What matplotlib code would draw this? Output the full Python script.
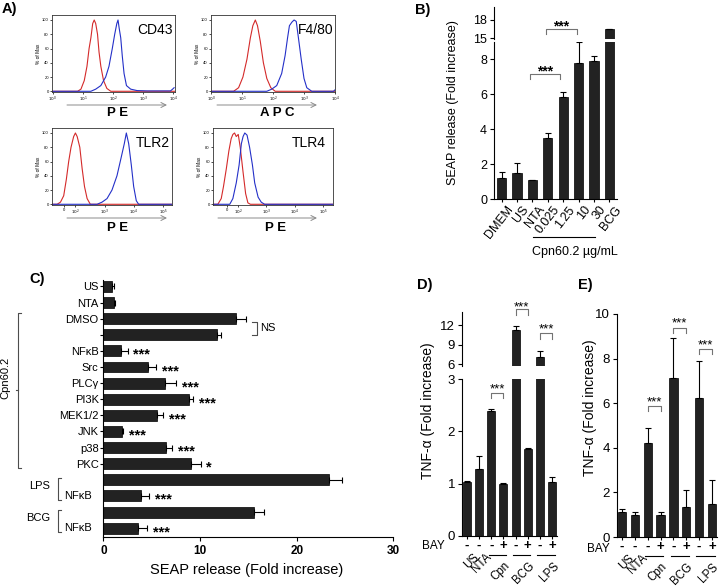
import numpy as np
import matplotlib
matplotlib.use('Agg')
import matplotlib.pyplot as plt
import matplotlib.transforms as mtrans

plt.rcParams['font.family'] = ['Liberation Sans', 'DejaVu Sans']
plt.rcParams['axes.linewidth'] = 0.8
plt.rcParams['xtick.major.width'] = 0.8
plt.rcParams['ytick.major.width'] = 0.8

# ---------------- data ----------------
# A) flow cytometry histograms (x: log10 fluorescence / decades, y: % of max)
cd43_red_x = [0, 0.82, 0.93, 1.04, 1.13, 1.20, 1.26, 1.32, 1.37, 1.42, 1.48, 1.53, 1.59, 1.68, 1.79, 1.92, 4.05]
cd43_red_y = [0, 0, 3, 15, 35, 60, 75, 95, 100, 95, 80, 55, 35, 15, 4, 0, 0]
cd43_blue_x = [0, 1.26, 1.42, 1.59, 1.75, 1.86, 1.97, 2.05, 2.12, 2.16, 2.20, 2.25, 2.30, 2.36, 2.44, 2.58, 2.79, 3.12, 3.90, 3.97, 4.02]
cd43_blue_y = [0, 0, 3, 8, 20, 35, 60, 80, 95, 100, 88, 75, 50, 25, 8, 3, 1, 0.5, 0.5, 3, 5]

f480_red_x = [0, 0.73, 0.89, 1.03, 1.16, 1.27, 1.35, 1.43, 1.50, 1.59, 1.69, 1.80, 1.93, 2.07, 4.0]
f480_red_y = [0, 0, 5, 20, 45, 75, 92, 100, 92, 70, 40, 18, 5, 0, 0]
f480_blue_x = [0, 1.80, 1.96, 2.12, 2.28, 2.39, 2.47, 2.53, 2.61, 2.68, 2.75, 2.82, 2.91, 3.00, 3.09, 3.25, 3.95, 4.0]
f480_blue_y = [0, 0, 3, 8, 25, 50, 75, 92, 97, 100, 98, 75, 45, 18, 5, 0, 0, 2]

tlr2_red_x = [1.2, 1.375, 1.49, 1.60, 1.69, 1.77, 1.85, 1.94, 2.00, 2.06, 2.15, 2.23, 2.31, 2.40, 2.51, 5.3]
tlr2_red_y = [0, 0, 3, 12, 35, 60, 80, 95, 100, 95, 80, 50, 25, 8, 0, 0]
tlr2_blue_x = [1.2, 2.74, 2.91, 3.08, 3.25, 3.42, 3.56, 3.67, 3.74, 3.82, 3.91, 3.99, 4.08, 4.16, 5.3]
tlr2_blue_y = [0, 0, 3, 8, 20, 40, 65, 85, 100, 85, 55, 25, 5, 0, 0]

tlr4_red_x = [1.12, 1.29, 1.41, 1.49, 1.59, 1.68, 1.76, 1.82, 1.88, 1.94, 2.01, 2.08, 2.18, 2.27, 2.35, 2.44, 5.35]
tlr4_red_y = [0, 0, 8, 25, 50, 75, 92, 98, 100, 95, 98, 80, 45, 15, 2, 0, 0]
tlr4_blue_x = [1.12, 1.71, 1.82, 1.94, 2.04, 2.12, 2.18, 2.24, 2.32, 2.41, 2.51, 2.59, 2.71, 2.82, 2.94, 5.35]
tlr4_blue_y = [0, 0, 8, 30, 55, 85, 95, 100, 97, 80, 55, 30, 10, 3, 0, 0]

log_ticks = [0, 1, 2, 3, 4]
log_labels = ['$10^0$', '$10^1$', '$10^2$', '$10^3$', '$10^4$']
biex_ticks = [1.6, 2, 3, 4, 5]
biex_labels = ['0', '$10^2$', '$10^3$', '$10^4$', '$10^5$']
pct_ticks = [0, 20, 40, 60, 80, 100]

# B) SEAP release
b_labels = ['DMEM', 'US', 'NTA', '0.025', '1.25', '10', '30', 'BCG']
b_vals = [1.2, 1.5, 1.1, 3.5, 5.85, 7.8, 7.9, 16.45]
b_err = [0.35, 0.55, 0.0, 0.3, 0.25, 1.2, 0.3, 0.15]

# C) inhibitors
c_labels = ['US', 'NTA', 'DMSO', '', 'NFκB', 'Src', 'PLCγ', 'PI3K', 'MEK1/2', 'JNK', 'p38', 'PKC',
            '', 'NFκB', '', 'NFκB']
c_vals = [0.85, 1.05, 13.7, 11.8, 1.8, 4.6, 6.35, 8.8, 5.55, 1.9, 6.5, 9.1, 23.3, 3.9, 15.55, 3.6]
c_err = [0.2, 0.15, 1.05, 0.4, 0.7, 0.85, 1.15, 0.45, 0.6, 0.1, 0.6, 0.95, 1.35, 0.85, 1.05, 0.9]
c_sig = ['', '', '', '', '***', '***', '***', '***', '***', '***', '***', '*', '', '***', '', '***']

# D), E) TNF-alpha
de_single = ['US', 'NTA']
de_groups = ['Cpn', 'BCG', 'LPS']
bay = ['-', '-', '-', '+', '-', '+', '-', '+']
d_vals = [1.03, 1.28, 2.38, 1.0, 11.2, 1.66, 7.1, 1.04]
d_err = [0.03, 0.25, 0.04, 0.02, 0.7, 0.03, 0.9, 0.09]
e_vals = [1.1, 1.0, 4.22, 1.0, 7.15, 1.35, 6.22, 1.47]
e_err = [0.15, 0.12, 0.65, 0.1, 1.78, 0.77, 1.65, 1.1]

# ---------------- figure ----------------
W, H = 720.0, 586.0
fig = plt.figure(figsize=(7.2, 5.86), dpi=100)
BAR = '#222222'


def box(l, t, r, b):
    return [l / W, 1 - b / H, (r - l) / W, (b - t) / H]


def ftext(x, y, s, **kw):
    fig.text(x / W, 1 - y / H, s, **kw)


def stars(ax, x, y, s, fs=10, bold=True, ha='center'):
    em = fs * 100 / 72.0
    ax.annotate(s, xy=(x, y), xycoords='data',
                xytext=(0, -0.55 * em), textcoords='offset pixels', ha=ha, va='baseline',
                fontsize=fs, fontweight='bold' if bold else 'normal', annotation_clip=False)


def bracket(ax, x0, x1, ytop, ybot, color='0.45', lw=0.8):
    ax.plot([x0, x0, x1, x1], [ybot, ytop, ytop, ybot], color=color, lw=lw, clip_on=False)


# panel letters
for s, x, y in [('A)', 9, 9), ('B)', 423, 10), ('C)', 37, 279), ('D)', 425, 285), ('E)', 585, 285)]:
    ftext(x, y, s, fontsize=10.5, fontweight='bold', ha='center', va='center')

# ---------------- A ----------------
panels_a = [
    dict(rect=(52, 15, 175, 92), red=(cd43_red_x, cd43_red_y), blue=(cd43_blue_x, cd43_blue_y),
         xlim=(-0.03, 4.05), ticks=log_ticks, tl=log_labels, title='CD43', tx=0.98, ty=0.80,
         chan='P E', arrow=(67, 167, 105), cxy=(118, 113)),
    dict(rect=(211, 15, 335, 92), red=(f480_red_x, f480_red_y), blue=(f480_blue_x, f480_blue_y),
         xlim=(0, 4.0), ticks=log_ticks, tl=log_labels, title='F4/80', tx=0.99, ty=0.80,
         chan='A P C', arrow=(217, 317, 105), cxy=(277, 113)),
    dict(rect=(52, 128, 172, 205), red=(tlr2_red_x, tlr2_red_y), blue=(tlr2_blue_x, tlr2_blue_y),
         xlim=(1.2, 5.3), ticks=biex_ticks, tl=biex_labels, title='TLR2', tx=0.98, ty=0.81,
         chan='P E', arrow=(67, 167, 218), cxy=(118, 228)),
    dict(rect=(213, 128, 333, 205), red=(tlr4_red_x, tlr4_red_y), blue=(tlr4_blue_x, tlr4_blue_y),
         xlim=(1.12, 5.35), ticks=biex_ticks, tl=biex_labels, title='TLR4', tx=0.94, ty=0.81,
         chan='P E', arrow=(218, 317, 218), cxy=(276, 228)),
]
for p in panels_a:
    ax = fig.add_axes(box(*p['rect']))
    ax.plot(*p['red'], color='#d42a2a', lw=0.8)
    ax.plot(*p['blue'], color='#2430c8', lw=0.8)
    ax.set_xlim(*p['xlim'])
    ax.set_ylim(-1, 107)
    ax.set_xticks(p['ticks'])
    ax.set_xticklabels(p['tl'])
    ax.set_yticks(pct_ticks)
    ax.tick_params(labelsize=3, length=1.5, width=0.5, pad=0.8)
    ax.set_ylabel('% of Max', fontsize=3.5, labelpad=1)
    for sp in ax.spines.values():
        sp.set_linewidth(0.6)
        sp.set_color('#333333')
    ax.text(p['tx'], p['ty'], p['title'], transform=ax.transAxes, ha='right', va='center', fontsize=10)
    x1, x2, ya = p['arrow']
    ax.annotate('', xy=(x2, H - ya), xytext=(x1, H - ya), xycoords='figure pixels',
                textcoords='figure pixels',
                arrowprops=dict(arrowstyle='->', color='#8a8a8a', lw=0.7, mutation_scale=9,
                                shrinkA=0, shrinkB=0))
    ftext(p['cxy'][0], p['cxy'][1], p['chan'], fontsize=9.5, fontweight='bold', ha='center', va='center')

# ---------------- B ----------------
bx = np.arange(len(b_labels))
axBl = fig.add_axes(box(494, 41.7, 617, 199))
axBh = fig.add_axes(box(494, 7, 617, 39))
for ax in (axBl, axBh):
    ax.bar(bx, b_vals, width=0.6, color=BAR, edgecolor='black', lw=0.5)
    ax.errorbar(bx, b_vals, yerr=[np.zeros(len(b_err)), b_err], fmt='none', ecolor='black',
                elinewidth=0.8, capsize=2.2, capthick=0.8)
    ax.set_xlim(-0.5, 7.5)
    ax.spines['top'].set_visible(False)
    ax.spines['right'].set_visible(False)
    ax.tick_params(labelsize=9, length=3, pad=2)
axBl.set_ylim(0, 9)
axBl.set_yticks([0, 2, 4, 6, 8])
axBh.set_ylim(14.9, 20.1)
axBh.set_yticks([15, 18])
axBh.spines['bottom'].set_visible(False)
axBh.set_xticks([])
axBl.set_xticks(bx)
axBl.set_xticklabels(b_labels, rotation=52, ha='right', rotation_mode='anchor', fontsize=9)
axBl.tick_params(axis='x', length=2, pad=1.5)
off = mtrans.ScaledTranslation(5 / 100.0, 0, fig.dpi_scale_trans)
for lab in axBl.get_xticklabels():
    lab.set_transform(lab.get_transform() + off)
# significance
bracket(axBl, 2 - 0.15, 4 - 0.2, 7.18, 6.86)
stars(axBl, (2 - 0.15 + 4 - 0.2) / 2, 7.5, '***', fs=10)
bracket(axBh, 3 - 0.15, 5 - 0.1, 16.5, 15.65)
stars(axBh, (3 - 0.15 + 5 - 0.1) / 2, 17.6, '***', fs=10)
# Cpn60.2 concentration group line
axBl.plot([3 - 0.95, 6 + 0.05], [-0.242, -0.242], transform=axBl.get_xaxis_transform(),
          color='black', lw=0.8, clip_on=False)
ftext(575, 252, 'Cpn60.2 µg/mL', fontsize=9, ha='center', va='center')
ftext(453, 103, 'SEAP release (Fold increase)', fontsize=9, rotation=90, ha='center', va='center')

# ---------------- C ----------------
cy = np.arange(len(c_labels))
axC = fig.add_axes(box(103.5, 280, 393.3, 537))
axC.barh(cy, c_vals, height=0.68, color=BAR, edgecolor='black', lw=0.5)
axC.errorbar(c_vals, cy, xerr=[np.zeros(len(c_err)), c_err], fmt='none', ecolor='black',
             elinewidth=0.8, capsize=2, capthick=0.8)
axC.set_xlim(0, 30)
axC.set_ylim(15.55, -0.4)
axC.spines['top'].set_visible(False)
axC.spines['right'].set_visible(False)
axC.set_xticks([0, 10, 20, 30])
axC.set_xticklabels(['0', '10', '20', '30'], fontweight='bold', fontsize=8.5,
                    family=['Liberation Sans Narrow', 'Liberation Sans'])
axC.tick_params(axis='x', length=3, pad=3)
axC.set_yticks(cy[:12])
axC.set_yticklabels(c_labels[:12], fontsize=8)
axC.tick_params(axis='y', length=2, pad=1.5)
ytr = axC.get_yaxis_transform()
for i in (13, 15):
    axC.text(-0.04, cy[i], c_labels[i], transform=ytr, ha='right', va='center', fontsize=8)
for i, s in enumerate(c_sig):
    if s:
        stars(axC, c_vals[i] + c_err[i] + 0.6, cy[i], s, fs=10.5, ha='left')
# NS bracket
axC.plot([15.4, 15.9, 15.9, 15.4], [cy[2] + 0.2, cy[2] + 0.2, cy[3] + 0.0, cy[3] + 0.0],
         color='0.3', lw=0.8, clip_on=False)
axC.text(16.2, (cy[2] + cy[3]) / 2 + 0.1, 'NS', ha='left', va='center', fontsize=8)
# Cpn60.2 bracket
xb = -0.295
axC.plot([xb + 0.012, xb, xb, xb + 0.012], [cy[2] - 0.33, cy[2] - 0.33, cy[11] + 0.27, cy[11] + 0.27],
         transform=ytr, color='0.3', lw=0.8, clip_on=False)
axC.plot([xb, xb - 0.008], [6.45, 6.45], transform=ytr, color='0.3', lw=0.8, clip_on=False)
axC.text(-0.337, 5.7, 'Cpn60.2', transform=ytr, rotation=90, ha='center', va='center', fontsize=8)
# LPS / BCG brackets
for lab, i in (('LPS', 12), ('BCG', 14)):
    xg = -0.157
    axC.plot([xg + 0.012, xg, xg, xg + 0.012], [cy[i] - 0.1, cy[i] - 0.1, cy[i + 1] + 0.25, cy[i + 1] + 0.25],
             transform=ytr, color='0.3', lw=0.8, clip_on=False)
    axC.text(-0.185, cy[i] + 0.4, lab, transform=ytr, ha='right', va='center', fontsize=8)
ftext(247, 570, 'SEAP release (Fold increase)', fontsize=10.5, ha='center', va='center')

# ---------------- D & E ----------------
dx = np.arange(len(bay))


def de_axis(ax, vals, err):
    ax.bar(dx, vals, width=0.65, color=BAR, edgecolor='black', lw=0.5)
    ax.errorbar(dx, vals, yerr=[np.zeros(len(err)), err], fmt='none', ecolor='black',
                elinewidth=0.8, capsize=2, capthick=0.8)
    ax.set_xlim(-0.4, 7.4)
    ax.spines['top'].set_visible(False)
    ax.spines['right'].set_visible(False)
    ax.tick_params(labelsize=9.5, length=3, pad=2)


def de_xlabels(ax, bay_dx, bay_dy):
    ax.set_xticks(dx)
    ax.set_xticklabels([])
    ax.tick_params(axis='x', length=2)
    for i, s in enumerate(bay):
        ax.annotate(s, xy=(dx[i], 0), xycoords=('data', 'axes fraction'), xytext=(0, -10),
                    textcoords='offset pixels', ha='center', va='center', fontsize=9.5,
                    fontweight='bold', annotation_clip=False)
    ax.annotate('BAY', xy=(0, 0), xycoords='axes fraction', xytext=(bay_dx, bay_dy),
                textcoords='offset pixels', ha='right', va='center', fontsize=8.5,
                annotation_clip=False)
    for i, s in enumerate(de_single):
        ax.annotate(s, xy=(dx[i], 0), xycoords=('data', 'axes fraction'), xytext=(6, -15),
                    textcoords='offset pixels', ha='right', va='top', rotation=45,
                    rotation_mode='anchor', fontsize=8.3, annotation_clip=False)
    grp_tr = ax.get_xaxis_transform() + mtrans.ScaledTranslation(0, -19 / 100.0, fig.dpi_scale_trans)
    for g, s in enumerate(de_groups):
        i = len(de_single) + 2 * g
        ax.plot([dx[i] - 0.22, dx[i + 1] + 0.22], [0, 0], transform=grp_tr,
                color='black', lw=0.8, clip_on=False)
        ax.annotate(s, xy=((dx[i] + dx[i + 1]) / 2, 0), xycoords=('data', 'axes fraction'),
                    xytext=(7, -24), textcoords='offset pixels', ha='right', va='top', rotation=45,
                    rotation_mode='anchor', fontsize=8.3, annotation_clip=False)


# D: broken axis
axDl = fig.add_axes(box(462, 379, 557, 536))
axDh = fig.add_axes(box(462, 312, 557, 366))
for ax in (axDl, axDh):
    de_axis(ax, d_vals, d_err)
axDl.set_ylim(0, 3)
axDl.set_yticks([0, 1, 2, 3])
axDh.set_ylim(5.7, 14)
axDh.set_yticks([6, 9, 12])
axDh.spines['bottom'].set_visible(False)
axDh.set_xticks([])
de_xlabels(axDl, -17, -10)
bracket(axDl, 2, 3, 2.73, 2.63)
stars(axDl, 2.5, 2.88, '***', fs=9.5, bold=False)
bracket(axDh, 4, 5, 14.5, 13.6)
stars(axDh, 4.5, 15.4, '***', fs=9.5, bold=False)
bracket(axDh, 6, 7, 10.8, 9.9)
stars(axDh, 6.5, 11.9, '***', fs=9.5, bold=False)
ftext(428, 411, 'TNF-α (Fold increase)', fontsize=10, rotation=90, ha='center', va='center')

# E
axE = fig.add_axes(box(617, 314, 717, 537))
de_axis(axE, e_vals, e_err)
axE.set_ylim(0, 10)
axE.set_yticks([0, 2, 4, 6, 8, 10])
de_xlabels(axE, -7, -12)
bracket(axE, 2, 3, 5.87, 5.65)
stars(axE, 2.5, 6.23, '***', fs=9.5, bold=False)
bracket(axE, 4, 5, 9.37, 9.15)
stars(axE, 4.5, 9.77, '***', fs=9.5, bold=False)
bracket(axE, 6, 7, 8.43, 8.2)
stars(axE, 6.5, 8.8, '***', fs=9.5, bold=False)
ftext(590, 408, 'TNF-α (Fold increase)', fontsize=10, rotation=90, ha='center', va='center')

fig.savefig('out.png', dpi=100)
